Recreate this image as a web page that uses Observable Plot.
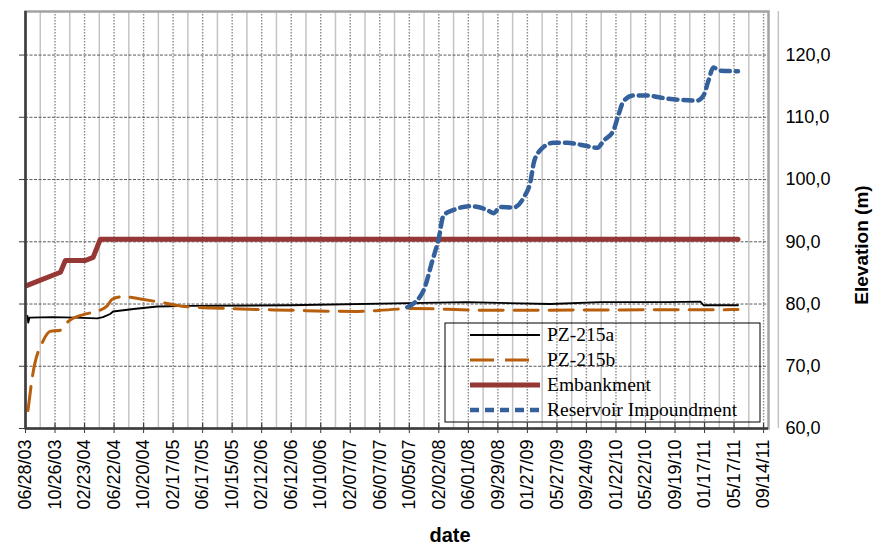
<!DOCTYPE html>
<html>
<head>
<meta charset="utf-8">
<script src="https://cdn.jsdelivr.net/npm/d3@7"></script>
<script src="https://cdn.jsdelivr.net/npm/@observablehq/plot@0.6"></script>
<style>
  html, body { margin: 0; padding: 0; background: #fff; }
  #chart svg { display: block; }
</style>
</head>
<body>
<div id="chart"></div>
<script>
// Piezometer readings, embankment height and reservoir level (elevation in m)
const seriesNames = ["PZ-215a", "PZ-215b", "Embankment", "Reservoir Impoundment"];

const pz215a = [
  ["2003-07-06", 78.1], ["2003-07-09", 77.0], ["2003-07-14", 77.8], ["2003-10-15", 77.9],
  ["2004-01-15", 77.8], ["2004-04-15", 77.7], ["2004-05-08", 77.9], ["2004-06-06", 78.4],
  ["2004-06-18", 78.8], ["2004-09-09", 79.2], ["2004-12-15", 79.6], ["2005-04-27", 79.7],
  ["2006-06-08", 79.8], ["2007-12-01", 80.2], ["2008-05-27", 80.3], ["2009-04-30", 80.0],
  ["2009-11-20", 80.3], ["2010-08-18", 80.3], ["2010-12-31", 80.4], ["2011-01-13", 79.8],
  ["2011-06-02", 79.8]
];

const pz215b = [
  ["2003-07-08", 62.9], ["2003-07-28", 68.8], ["2003-09-08", 74.1], ["2003-10-06", 75.6],
  ["2003-11-17", 75.8], ["2003-12-19", 77.2], ["2004-02-18", 78.3], ["2004-04-19", 78.9],
  ["2004-05-25", 79.7], ["2004-06-15", 80.8], ["2004-07-30", 81.2], ["2004-10-07", 80.8],
  ["2005-01-10", 80.2], ["2005-03-18", 79.7], ["2005-09-10", 79.3], ["2006-06-08", 79.0],
  ["2007-03-06", 78.8], ["2007-07-19", 79.1], ["2007-10-21", 79.3], ["2008-08-01", 79.0],
  ["2011-05-12", 79.1], ["2011-06-02", 79.1]
];

const embankment = [
  ["2003-07-05", 83.0], ["2003-11-17", 85.1], ["2003-12-07", 87.0], ["2004-02-26", 87.0],
  ["2004-03-29", 87.5], ["2004-04-27", 90.4], ["2011-06-02", 90.4]
];

const reservoir = [
  ["2007-09-27", 79.5], ["2007-12-01", 82.1], ["2008-01-07", 87.0], ["2008-02-01", 90.4],
  ["2008-02-21", 94.2], ["2008-04-01", 95.1], ["2008-06-09", 95.7], ["2008-08-17", 95.1],
  ["2008-09-11", 94.6], ["2008-10-09", 95.6], ["2008-12-01", 95.5], ["2009-01-12", 97.1],
  ["2009-02-09", 99.8], ["2009-02-22", 102.7], ["2009-03-20", 104.7], ["2009-05-12", 105.9],
  ["2009-07-08", 105.9], ["2009-08-30", 105.6], ["2009-11-08", 105.1], ["2009-12-02", 106.2],
  ["2010-01-12", 107.9], ["2010-02-02", 110.5], ["2010-02-22", 112.6], ["2010-04-02", 113.5],
  ["2010-05-28", 113.5], ["2010-08-18", 113.0], ["2010-12-18", 112.7], ["2011-01-13", 113.5],
  ["2011-02-02", 115.9], ["2011-02-22", 118.0], ["2011-03-21", 117.5], ["2011-06-02", 117.4]
];

// Axis ticks
const xTickLabels = [
  "06/28/03", "10/26/03", "02/23/04", "06/22/04", "10/20/04", "02/17/05", "06/17/05",
  "10/15/05", "02/12/06", "06/12/06", "10/10/06", "02/07/07", "06/07/07", "10/05/07",
  "02/02/08", "06/01/08", "09/29/08", "01/27/09", "05/27/09", "09/24/09", "01/22/10",
  "05/22/10", "09/19/10", "01/17/11", "05/17/11", "09/14/11"
];
const yTicks = [60, 70, 80, 90, 100, 110, 120];
const xDomain = ["2003-06-28", "2011-10-04"];
const yDomain = [60, 127];

// Line styles per series
const styles = {
  "PZ-215a": {stroke: "#000000", strokeWidth: 1.8, dash: null, curve: "linear"},
  "PZ-215b": {stroke: "#B85F0E", strokeWidth: 3, dash: "24,11", curve: "monotone-x"},
  "Embankment": {stroke: "#953735", strokeWidth: 5, dash: null, curve: "linear"},
  "Reservoir Impoundment": {stroke: "#34609C", strokeWidth: 4.5, dash: "9,6", curve: "monotone-x"}
};

const parseTick = d3.utcParse("%m/%d/%y");
const tickDates = xTickLabels.map(parseTick);
const minorDates = tickDates.map(d => d3.utcDay.offset(d, 60));
const toRows = (arr) => arr.map(([d, v]) => ({date: new Date(d), value: v}));
const seriesData = {
  "PZ-215a": toRows(pz215a),
  "PZ-215b": toRows(pz215b),
  "Embankment": toRows(embankment),
  "Reservoir Impoundment": toRows(reservoir)
};

const lineMark = (name) => {
  const s = styles[name];
  return Plot.line(seriesData[name], {
    x: "date", y: "value",
    stroke: s.stroke, strokeWidth: s.strokeWidth,
    strokeDasharray: s.dash, curve: s.curve,
    strokeLinejoin: "round"
  });
};

const fmtY = d => d.toFixed(1).replace(".", ",");

const chart = Plot.plot({
  width: 883,
  height: 548,
  marginLeft: 25,
  marginRight: 115,
  marginTop: 11,
  marginBottom: 120,
  style: {fontFamily: "'Liberation Sans', Arial, sans-serif", fontSize: "18px", background: "#fff", color: "#000"},
  x: {type: "utc", domain: xDomain.map(d => new Date(d))},
  y: {domain: yDomain},
  marks: [
    // grid
    Plot.ruleX(minorDates, {stroke: "#c4c4c4", strokeWidth: 1.5}),
    Plot.ruleX(tickDates, {stroke: "#8a8a8a", strokeWidth: 1.4, strokeDasharray: "1.5,1.5"}),
    Plot.ruleY(yTicks.filter(d => d > 60), {stroke: "#5a5a5a", strokeWidth: 1, strokeDasharray: "3,1.5"}),
    Plot.frame({stroke: "#a3a3a3", strokeWidth: 2.5}),
    // series
    ...seriesNames.map(lineMark),
    // axes
    Plot.ruleX([new Date(xDomain[0])], {stroke: "#3c3c3c", strokeWidth: 2.5}),
    Plot.ruleY([60], {stroke: "#3c3c3c", strokeWidth: 2.5}),
    Plot.ruleX(tickDates, {stroke: "#3c3c3c", strokeWidth: 1.2, insetTop: 412}),
    Plot.axisX({
      ticks: tickDates, tickFormat: d3.utcFormat("%m/%d/%y"), tickRotate: -90,
      tickSize: 5, tickPadding: 6, fontSize: 18, label: null, stroke: "#3c3c3c"
    }),
    Plot.axisY({anchor: "left", ticks: yTicks, tickSize: 6, tickFormat: () => "", label: null, stroke: "#3c3c3c"}),
    Plot.axisY({anchor: "right", ticks: yTicks, tickSize: 0, tickPadding: 17, tickFormat: fmtY, fontSize: 18, label: null})
  ]
});

document.getElementById("chart").appendChild(chart);

// Axis titles and legend
const svg = d3.select(chart);
svg.append("text")
  .attr("x", 450).attr("y", 542)
  .attr("text-anchor", "middle")
  .attr("font-family", "'Liberation Sans', Arial, sans-serif")
  .attr("font-weight", "bold").attr("font-size", 20)
  .text("date");
svg.append("text")
  .attr("transform", "translate(868,245) rotate(-90)")
  .attr("text-anchor", "middle")
  .attr("font-family", "'Liberation Sans', Arial, sans-serif")
  .attr("font-weight", "bold").attr("font-size", 19)
  .text("Elevation (m)");

const legend = svg.append("g").attr("text-anchor", "start");
legend.append("rect")
  .attr("x", 445).attr("y", 323).attr("width", 315).attr("height", 99)
  .attr("fill", "none").attr("stroke", "#000").attr("stroke-width", 1);
seriesNames.forEach((name, i) => {
  const s = styles[name];
  const y = 335 + i * 25;
  const line = legend.append("line")
    .attr("x1", 470).attr("x2", 540).attr("y1", y).attr("y2", y)
    .attr("stroke", s.stroke).attr("stroke-width", s.strokeWidth);
  if (s.dash) line.attr("stroke-dasharray", s.dash);
  legend.append("text")
    .attr("x", 547).attr("y", y).attr("dy", "0.33em")
    .attr("text-anchor", "start")
    .attr("font-family", "'Liberation Serif', 'Times New Roman', serif")
    .attr("font-size", 19.5)
    .text(name);
});
</script>
</body>
</html>
